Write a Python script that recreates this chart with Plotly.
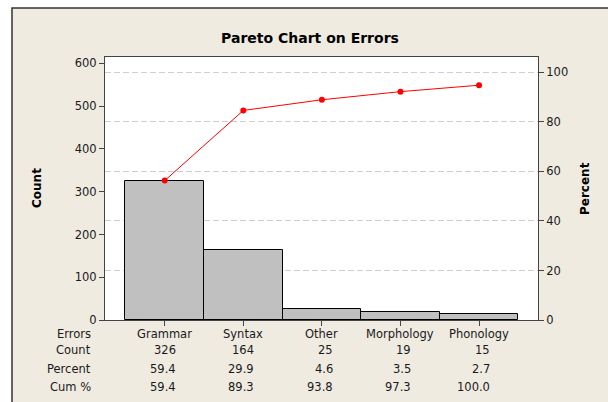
import plotly.graph_objects as go

# ---- data ----
categories = ["Grammar", "Syntax", "Other", "Morphology", "Phonology"]
counts = [326, 164, 25, 19, 15]
percents = [59.4, 29.9, 4.6, 3.5, 2.7]
cum_percents = [59.4, 89.3, 93.8, 97.3, 100.0]
row_labels = ["Errors", "Count", "Percent", "Cum %"]

cum_counts = []
running = 0
for c in counts:
    running += c
    cum_counts.append(running)

W, H = 608, 402
ML, MR, MT, MB = 105, 70, 57, 82
PW, PH = W - ML - MR, H - MT - MB


def px_x(px):
    return (px - ML) / PW


def px_y(py):
    return (H - MB - py) / PH


FONT = "DejaVu Sans"
BEIGE = "#EFEBE1"
TXT = 11.5

fig = go.Figure()

fig.add_trace(go.Bar(
    x=categories, y=counts, width=1.0,
    marker=dict(color="#C0C0C0", line=dict(color="#000000", width=1)),
    showlegend=False, hoverinfo="x+y",
))

fig.add_trace(go.Scatter(
    x=categories, y=cum_counts, mode="lines+markers",
    line=dict(color="#FF0000", width=1),
    marker=dict(color="#FF0000", size=6),
    showlegend=False,
))

# invisible trace that binds the right-hand percent axis
fig.add_trace(go.Scatter(
    x=categories, y=cum_percents, yaxis="y2", mode="markers",
    marker=dict(opacity=0), showlegend=False, hoverinfo="skip",
))

shapes = [
    dict(type="rect", xref="paper", yref="paper", layer="below",
         x0=px_x(12), x1=px_x(640), y0=px_y(430), y1=px_y(8),
         fillcolor=BEIGE, line=dict(color="#333333", width=1.5)),
    dict(type="rect", xref="paper", yref="paper", layer="below",
         x0=0, x1=1, y0=0, y1=1, fillcolor="#FFFFFF", line=dict(width=0)),
]

annotations = []
row_y = [334, 350, 369, 387]
for lab, yy in zip(row_labels, row_y):
    annotations.append(dict(
        text=lab, xref="paper", yref="paper", x=px_x(93), y=px_y(yy),
        xanchor="right", yanchor="middle", showarrow=False,
        font=dict(family=FONT, size=TXT, color="#1a1a1a")))

off = 0.165
for i, cat in enumerate(categories):
    annotations.append(dict(
        text=cat, xref="x", yref="paper", x=i, y=px_y(row_y[0]),
        xanchor="center", yanchor="middle", showarrow=False,
        font=dict(family=FONT, size=TXT, color="#1a1a1a")))
    vals = [str(counts[i]), f"{percents[i]:.1f}", f"{cum_percents[i]:.1f}"]
    for v, yy in zip(vals, row_y[1:]):
        annotations.append(dict(
            text=v, xref="x", yref="paper", x=i + off, y=px_y(yy),
            xanchor="right", yanchor="middle", showarrow=False,
            font=dict(family=FONT, size=TXT, color="#1a1a1a")))

annotations.append(dict(
    text="<b>Count</b>", xref="paper", yref="paper", x=px_x(37), y=px_y(188),
    textangle=-90, showarrow=False, xanchor="center", yanchor="middle",
    font=dict(family=FONT, size=12, color="#000000")))
annotations.append(dict(
    text="<b>Percent</b>", xref="paper", yref="paper", x=px_x(585), y=px_y(189),
    textangle=-90, showarrow=False, xanchor="center", yanchor="middle",
    font=dict(family=FONT, size=12, color="#000000")))

fig.update_layout(
    width=W, height=H,
    margin=dict(l=ML, r=MR, t=MT, b=MB, autoexpand=False),
    paper_bgcolor="#FFFFFF", plot_bgcolor="#FFFFFF",
    font=dict(family=FONT, size=TXT, color="#1a1a1a"),
    title=dict(text="<b>Pareto Chart on Errors</b>", x=310 / W, xanchor="center",
               y=1 - 38 / H, yanchor="middle",
               font=dict(family=FONT, size=14, color="#000000")),
    bargap=0,
    xaxis=dict(type="category", range=[-0.76, 4.75], showticklabels=False,
               ticks="outside", ticklen=5, tickcolor="#444444",
               showline=True, linecolor="#444444", linewidth=1, mirror=True,
               showgrid=False, zeroline=False),
    yaxis=dict(range=[0, 615], tickvals=[0, 100, 200, 300, 400, 500, 600],
               ticks="outside", ticklen=5, tickcolor="#444444",
               showline=True, linecolor="#444444", linewidth=1,
               showgrid=False, zeroline=False,
               tickfont=dict(family=FONT, size=TXT, color="#1a1a1a")),
    yaxis2=dict(range=[0, 106.2], overlaying="y", side="right",
                tickvals=[0, 20, 40, 60, 80, 100],
                ticks="outside", ticklen=5, tickcolor="#444444",
                showline=True, linecolor="#444444", linewidth=1,
                showgrid=True, gridcolor="#CFCFCF", gridwidth=1,
                griddash="6px,3px", zeroline=False,
                tickfont=dict(family=FONT, size=TXT, color="#1a1a1a")),
    shapes=shapes,
    annotations=annotations,
)

fig.write_html(
    "out.html",
    config={"displayModeBar": False},
    post_script="document.body.style.margin='0px';document.body.style.overflow='hidden';",
)
